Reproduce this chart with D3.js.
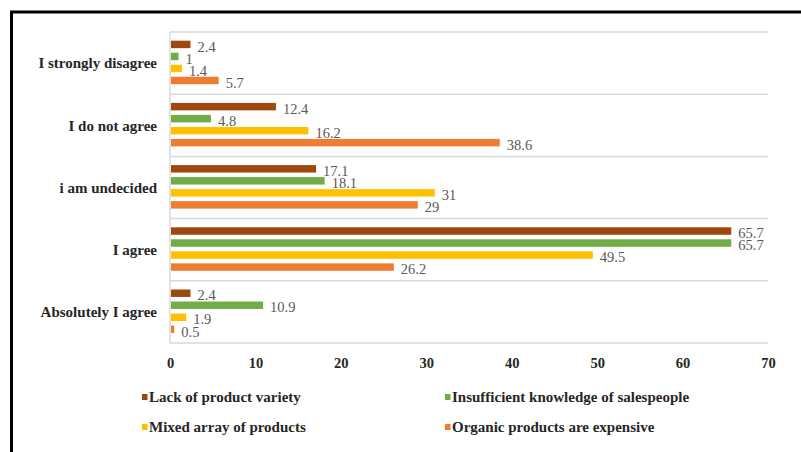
<!DOCTYPE html>
<html><head><meta charset="utf-8">
<script src="https://cdn.jsdelivr.net/npm/d3@7"></script>
<style>body{margin:0;background:#fff}svg{display:block}</style>
</head><body>
<svg id="c" width="801" height="452"></svg>
<script>
const categories = ["I strongly disagree","I do not agree","i am undecided","I agree","Absolutely I agree"];
const seriesNames = ["Lack of product variety","Insufficient knowledge of salespeople","Mixed array of products","Organic products are expensive"];
const seriesColors = ["#9E480E","#70AD47","#FFC000","#ED7D31"];
const lackVariety = [2.4,12.4,17.1,65.7,2.4];
const insufficientKnowledge = [1,4.8,18.1,65.7,10.9];
const mixedArray = [1.4,16.2,31,49.5,1.9];
const organicExpensive = [5.7,38.6,29,26.2,0.5];
const xTicks = [0,10,20,30,40,50,60,70];
const seriesValues = [lackVariety,insufficientKnowledge,mixedArray,organicExpensive];

const serif = "'Liberation Serif','Times New Roman',serif";
const svg = d3.select("#c");
// outer frame
svg.append("rect").attr("x",11.5).attr("y",12).attr("width",900).attr("height",900)
  .attr("fill","none").attr("stroke","#000").attr("stroke-width",3);

const x = d3.scaleLinear().domain([0,70]).range([170,768]);
const y = d3.scaleBand().domain(categories).range([32,343]).padding(0);
const inner = d3.scaleBand().domain(seriesNames).range([0,43.5]).paddingInner(0.38).paddingOuter(0);

// gridlines (category separators)
const gridYs = categories.map(c=>y(c)).concat([y.range()[1]]);
svg.append("g").selectAll("line").data(gridYs).join("line")
  .attr("x1",170).attr("x2",768).attr("y1",d=>d).attr("y2",d=>d)
  .attr("stroke","#d9d9d9").attr("stroke-width",1.5);
svg.append("line").attr("x1",170).attr("x2",170).attr("y1",32).attr("y2",343)
  .attr("stroke","#d9d9d9").attr("stroke-width",1.5);

// bars
const groups = svg.append("g").selectAll("g").data(categories).join("g")
  .attr("transform",c=>`translate(0,${y(c)+8.7})`);
groups.each(function(c,ci){
  const g = d3.select(this);
  seriesNames.forEach((s,si)=>{
    const v = seriesValues[si][ci];
    g.append("rect").attr("x",x(0)+1).attr("y",inner(s))
      .attr("width",Math.max(0,x(v)-x(0)-1)).attr("height",inner.bandwidth())
      .attr("fill",seriesColors[si]);
    g.append("text").attr("x",x(v)+7).attr("y",inner(s)+inner.bandwidth()+3.5)
      .attr("font-family",serif).attr("font-size",14.5)
      .attr("fill","#595959").text(v);
  });
});

// category labels
svg.append("g").selectAll("text").data(categories).join("text")
  .attr("x",157).attr("y",c=>y(c)+y.bandwidth()/2).attr("dy","0.35em")
  .attr("text-anchor","end").attr("font-family",serif)
  .attr("font-weight","bold").attr("font-size",15).attr("fill","#262626").text(c=>c);

// x axis tick labels
const ax = svg.append("g").attr("transform","translate(0,363)")
  .call(d3.axisBottom(x).tickValues(xTicks).tickSize(0).tickPadding(0));
ax.select(".domain").remove();
ax.selectAll("text").attr("dy","0.35em").attr("font-family",serif)
  .attr("font-weight","bold").attr("font-size",14.5).attr("fill","#262626");

// legend
const legPos = [[142,397],[445,397],[142,427],[445,427]];
const leg = svg.append("g").selectAll("g").data(seriesNames).join("g")
  .attr("transform",(d,i)=>`translate(${legPos[i][0]},${legPos[i][1]})`);
leg.append("rect").attr("x",0).attr("y",-3).attr("width",5.5).attr("height",6)
  .attr("fill",(d,i)=>seriesColors[i]);
leg.append("text").attr("x",7).attr("y",0).attr("dy","0.35em")
  .attr("font-family",serif).attr("font-weight","bold")
  .attr("font-size",15).attr("fill","#262626").text(d=>d);
</script>
</body></html>
